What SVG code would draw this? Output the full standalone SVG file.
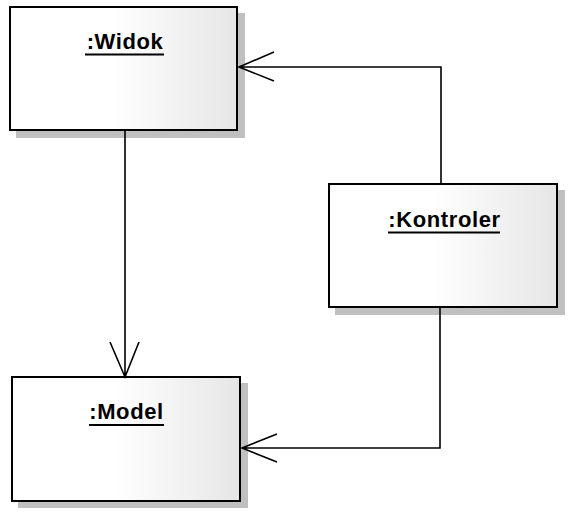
<svg xmlns="http://www.w3.org/2000/svg" width="570" height="516" viewBox="0 0 570 516">
<defs>
<linearGradient id="fill" x1="0" y1="0" x2="1" y2="0">
<stop offset="0" stop-color="#ffffff"/>
<stop offset="0.45" stop-color="#ffffff"/>
<stop offset="1" stop-color="#e6e6e6"/>
</linearGradient>
<style>
.shadow{fill:#c0c0c0;stroke:none}
.box{fill:url(#fill);stroke:#000;stroke-width:2}
.label{font-family:"Liberation Sans",Arial,sans-serif;font-weight:bold;font-size:22px;letter-spacing:0.6px;fill:#000;text-anchor:middle}
.ul{stroke:#000;stroke-width:2}
.conn{fill:none;stroke:#000;stroke-width:1.6}
</style>
</defs>
<rect x="0" y="0" width="570" height="516" fill="#ffffff"/>
<g id="widok">
<rect class="shadow" x="16" y="13" width="229" height="125"/>
<rect class="box" x="10" y="7" width="227" height="123"/>
<text class="label" x="125" y="48.5">:Widok</text>
<line class="ul" x1="85" y1="54.5" x2="164" y2="54.5"/>
</g>
<g id="kontroler">
<rect class="shadow" x="335" y="190" width="230" height="125"/>
<rect class="box" x="329" y="184" width="228" height="123"/>
<text class="label" x="444.5" y="227">:Kontroler</text>
<line class="ul" x1="388" y1="232.5" x2="500" y2="232.5"/>
</g>
<g id="model">
<rect class="shadow" x="18" y="383" width="230" height="125"/>
<rect class="box" x="12" y="377" width="228" height="124"/>
<text class="label" x="126.5" y="418.5">:Model</text>
<line class="ul" x1="89" y1="425" x2="164" y2="425"/>
</g>
<g id="connectors">
<path class="conn" d="M125,131 V376 M110,342 L125,377 L139,342"/>
<path class="conn" d="M441,183 V67 H239 M274,52 L239,67 L274,81"/>
<path class="conn" d="M440,308 V448 H242 M277,434 L242,448 L277,462"/>
</g>
</svg>
